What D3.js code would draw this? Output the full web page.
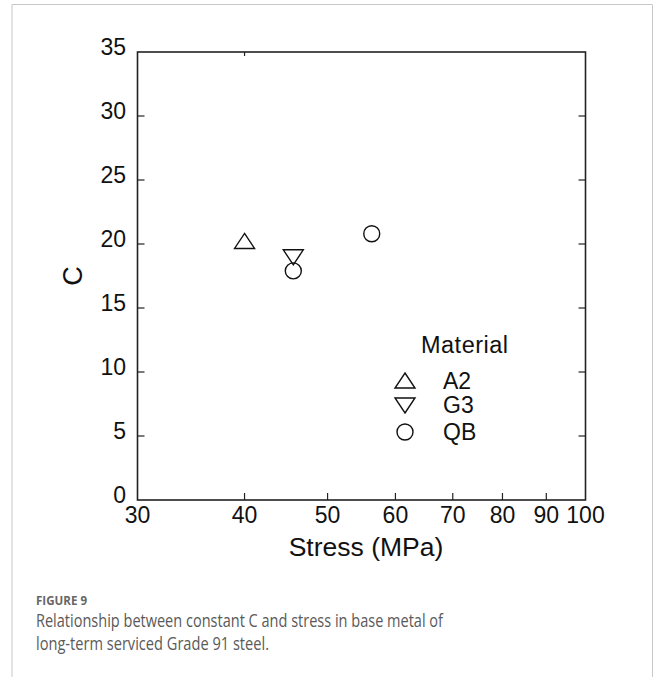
<!DOCTYPE html>
<html>
<head>
<meta charset="utf-8">
<script src="https://cdn.jsdelivr.net/npm/d3@7"></script>
<style>
  html, body { margin: 0; padding: 0; background: #fff; }
  svg { display: block; }
</style>
</head>
<body>
<svg id="chart" width="654" height="677"></svg>
<script>
// Series values: stress (MPa) and constant C per material
const materials = ["A2", "G3", "QB"];
const stressA2 = [40.0];
const cA2 = [20.2];
const stressG3 = [45.6];
const cG3 = [19.0];
const stressQB = [45.6, 56.3];
const cQB = [17.9, 20.8];

const xTicks = [30, 40, 50, 60, 70, 80, 90, 100];
const yTicks = [0, 5, 10, 15, 20, 25, 30, 35];

const svg = d3.select("#chart");
const font = "'Liberation Sans', Arial, sans-serif";

// panel frame
svg.append("path")
  .attr("d", "M12,677 V4.5 H652.5 V677")
  .attr("fill", "none").attr("stroke", "#c8c8c8").attr("stroke-width", 1);

const L = 137.5, R = 585.5, T = 52, B = 500;
const x = d3.scaleLog().domain([30, 100]).range([L, R]);
const y = d3.scaleLinear().domain([0, 35]).range([B, T]);

const g = svg.append("g");

// axes frame
g.append("rect").attr("x", L).attr("y", T).attr("width", R - L).attr("height", B - T)
  .attr("fill", "none").attr("stroke", "#222").attr("stroke-width", 1.6);

// inward ticks on all four sides
const tl = 7;
xTicks.slice(1, -1).forEach(v => {
  g.append("line").attr("x1", x(v)).attr("x2", x(v)).attr("y1", B).attr("y2", B - tl)
    .attr("stroke", "#222").attr("stroke-width", 1.2);
});
g.append("line").attr("x1", x(40)).attr("x2", x(40)).attr("y1", T).attr("y2", T + 4)
  .attr("stroke", "#222").attr("stroke-width", 1.2);
yTicks.slice(1, -1).forEach(v => {
  g.append("line").attr("x1", L).attr("x2", L + tl).attr("y1", y(v)).attr("y2", y(v))
    .attr("stroke", "#222").attr("stroke-width", 1.2);
  g.append("line").attr("x1", R).attr("x2", R - tl).attr("y1", y(v)).attr("y2", y(v))
    .attr("stroke", "#222").attr("stroke-width", 1.2);
});

// tick labels
g.selectAll(".xl").data(xTicks).enter().append("text")
  .attr("x", d => x(d)).attr("y", 523)
  .attr("text-anchor", "middle")
  .attr("font-family", font).attr("font-size", 23).attr("fill", "#111")
  .text(d => d);
g.selectAll(".yl").data(yTicks).enter().append("text")
  .attr("x", 126).attr("y", d => y(d) + 3)
  .attr("text-anchor", "end")
  .attr("font-family", font).attr("font-size", 23).attr("fill", "#111")
  .text(d => d);

// axis titles
g.append("text").attr("x", 366).attr("y", 556).attr("text-anchor", "middle")
  .attr("font-family", font).attr("font-size", 26.5).attr("fill", "#111")
  .text("Stress (MPa)");
g.append("text").attr("transform", "translate(82,276) rotate(-90)")
  .attr("text-anchor", "middle")
  .attr("font-family", font).attr("font-size", 27).attr("fill", "#111")
  .text("C");

// marker shapes
function marker(sel, kind) {
  if (kind === "A2") {
    sel.append("path").attr("d", "M0,-8 L10,7 L-10,7 Z");
  } else if (kind === "G3") {
    sel.append("path").attr("d", "M0,8 L10,-7 L-10,-7 Z");
  } else {
    sel.append("circle").attr("r", 8);
  }
  sel.selectAll("path,circle").attr("fill", "none").attr("stroke", "#111").attr("stroke-width", 1.4);
}

const seriesData = [
  { name: "A2", xs: stressA2, ys: cA2 },
  { name: "G3", xs: stressG3, ys: cG3 },
  { name: "QB", xs: stressQB, ys: cQB }
];
seriesData.forEach(s => {
  s.xs.forEach((v, i) => {
    const m = g.append("g").attr("transform", `translate(${x(v)},${y(s.ys[i])})`);
    marker(m, s.name);
  });
});

// legend
g.append("text").attr("x", 421).attr("y", 353)
  .attr("font-family", font).attr("font-size", 23.5).attr("fill", "#111")
  .attr("textLength", 87).attr("lengthAdjust", "spacing")
  .text("Material");
const legY = [381, 405, 432];
materials.forEach((name, i) => {
  const m = g.append("g").attr("transform", `translate(405,${legY[i]})`);
  marker(m, name);
  g.append("text").attr("x", 443).attr("y", legY[i] + 8)
    .attr("font-family", font).attr("font-size", 23).attr("fill", "#111")
    .text(name);
});

// caption
svg.append("text").attr("x", 36).attr("y", 605)
  .attr("font-family", "'Open Sans', sans-serif").attr("font-size", 13).attr("font-weight", 700)
  .attr("fill", "#666").attr("textLength", 51).attr("lengthAdjust", "spacingAndGlyphs")
  .text("FIGURE 9");
const capLines = [
  "Relationship between constant C and stress in base metal of",
  "long-term serviced Grade 91 steel."
];
const capWidths = [407, 233];
capLines.forEach((t, i) => {
  svg.append("text").attr("x", 36).attr("y", 627 + i * 23)
    .attr("font-family", "'Open Sans', sans-serif").attr("font-size", 18)
    .attr("fill", "#5a5a5a")
    .attr("textLength", capWidths[i]).attr("lengthAdjust", "spacingAndGlyphs")
    .text(t);
});
</script>
</body>
</html>
